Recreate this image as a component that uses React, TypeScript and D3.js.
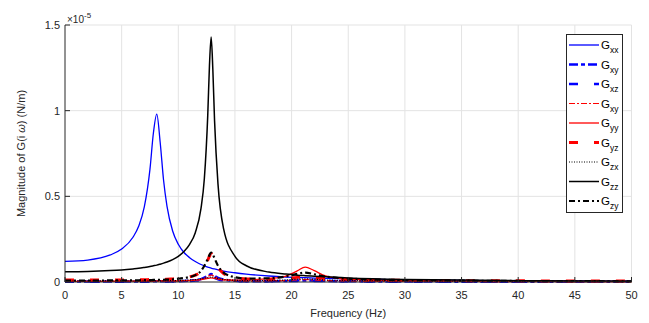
import { useEffect, useRef } from 'react'
import * as d3 from 'd3'

// frequency samples (Hz)
const freq = [0, 2, 4, 5, 6, 6.5, 7, 7.5, 7.8, 8.1, 8.4, 8.7, 9, 9.5, 10, 10.5, 11, 11.5, 12, 12.3, 12.6, 12.75, 12.9, 13.05, 13.2, 13.5, 14, 15, 16, 18, 19.5, 20.5, 21.2, 22, 23, 25, 30, 35, 40, 45, 50]

// magnitudes, x1e-5 N/m
const gxx = [0.12, 0.128, 0.158, 0.192, 0.261, 0.325, 0.438, 0.659, 0.868, 0.98, 0.816, 0.594, 0.443, 0.298, 0.22, 0.172, 0.142, 0.12, 0.102, 0.094, 0.087, 0.084, 0.081, 0.078, 0.076, 0.071, 0.064, 0.054, 0.046, 0.035, 0.029, 0.026, 0.025, 0.023, 0.021, 0.018, 0.012, 0.009, 0.007, 0.006, 0.005]
const gxy = [0.003, 0.003, 0.003, 0.003, 0.003, 0.003, 0.003, 0.004, 0.004, 0.004, 0.004, 0.004, 0.004, 0.005, 0.005, 0.006, 0.008, 0.011, 0.017, 0.025, 0.036, 0.042, 0.046, 0.042, 0.036, 0.024, 0.014, 0.007, 0.005, 0.005, 0.006, 0.008, 0.009, 0.008, 0.006, 0.004, 0.003, 0.002, 0.002, 0.002, 0.002]
const gxz = [0.002, 0.002, 0.002, 0.002, 0.002, 0.002, 0.002, 0.003, 0.003, 0.003, 0.003, 0.003, 0.003, 0.003, 0.004, 0.005, 0.006, 0.008, 0.012, 0.017, 0.024, 0.028, 0.031, 0.028, 0.024, 0.016, 0.009, 0.005, 0.004, 0.004, 0.005, 0.006, 0.007, 0.006, 0.005, 0.003, 0.002, 0.002, 0.002, 0.002, 0.002]
const gyx = [0.004, 0.004, 0.004, 0.004, 0.004, 0.004, 0.004, 0.004, 0.004, 0.005, 0.005, 0.005, 0.005, 0.005, 0.006, 0.007, 0.008, 0.011, 0.016, 0.023, 0.033, 0.038, 0.041, 0.038, 0.033, 0.022, 0.013, 0.007, 0.005, 0.006, 0.008, 0.012, 0.014, 0.012, 0.008, 0.005, 0.003, 0.003, 0.002, 0.002, 0.002]
const gyy = [0.004, 0.004, 0.004, 0.005, 0.005, 0.005, 0.005, 0.005, 0.006, 0.006, 0.006, 0.006, 0.006, 0.007, 0.007, 0.008, 0.009, 0.011, 0.014, 0.017, 0.021, 0.023, 0.024, 0.023, 0.021, 0.017, 0.013, 0.011, 0.012, 0.02, 0.035, 0.065, 0.087, 0.066, 0.036, 0.017, 0.008, 0.005, 0.004, 0.003, 0.003]
const gyz = [0.012, 0.012, 0.012, 0.012, 0.013, 0.013, 0.013, 0.014, 0.014, 0.014, 0.015, 0.015, 0.016, 0.018, 0.02, 0.024, 0.03, 0.04, 0.062, 0.09, 0.128, 0.15, 0.165, 0.152, 0.13, 0.088, 0.05, 0.026, 0.018, 0.016, 0.02, 0.027, 0.03, 0.026, 0.02, 0.015, 0.01, 0.008, 0.007, 0.006, 0.006]
const gzx = [0.006, 0.006, 0.006, 0.006, 0.006, 0.006, 0.006, 0.007, 0.007, 0.007, 0.007, 0.007, 0.008, 0.008, 0.009, 0.01, 0.012, 0.014, 0.018, 0.022, 0.026, 0.028, 0.029, 0.028, 0.026, 0.021, 0.015, 0.01, 0.008, 0.009, 0.012, 0.016, 0.018, 0.016, 0.012, 0.009, 0.006, 0.005, 0.004, 0.004, 0.003]
const gzz = [0.06, 0.0615, 0.0665, 0.0706, 0.0765, 0.08, 0.085, 0.0906, 0.0945, 0.0985, 0.104, 0.11, 0.117, 0.131, 0.15, 0.178, 0.22, 0.288, 0.428, 0.604, 0.974, 1.263, 1.43, 1.237, 0.942, 0.574, 0.31, 0.15, 0.095, 0.058, 0.046, 0.04, 0.037, 0.034, 0.03, 0.024, 0.015, 0.011, 0.008, 0.006, 0.005]
const gzy = [0.008, 0.008, 0.009, 0.009, 0.01, 0.01, 0.011, 0.011, 0.012, 0.012, 0.013, 0.013, 0.014, 0.016, 0.019, 0.023, 0.029, 0.04, 0.065, 0.095, 0.135, 0.158, 0.172, 0.16, 0.138, 0.095, 0.055, 0.028, 0.02, 0.022, 0.032, 0.047, 0.055, 0.045, 0.032, 0.02, 0.011, 0.008, 0.006, 0.005, 0.004]

const xTicks = [0, 5, 10, 15, 20, 25, 30, 35, 40, 45, 50]
const yTicks = [0, 0.5, 1, 1.5]

const series = [
  { sub: 'xx', values: gxx, color: '#0000ff', width: 1.3, dash: '' },
  { sub: 'xy', values: gxy, color: '#0000ff', width: 2.5, dash: '9,3,4,3' },
  { sub: 'xz', values: gxz, color: '#0000ff', width: 2.5, dash: '9,16' },
  { sub: 'xy', values: gyx, color: '#ff0000', width: 1.2, dash: '6,2,2,2' },
  { sub: 'yy', values: gyy, color: '#ff0000', width: 1.3, dash: '' },
  { sub: 'yz', values: gyz, color: '#ff0000', width: 3, dash: '9,16' },
  { sub: 'zx', values: gzx, color: '#000000', width: 1.2, dash: '1,1.5' },
  { sub: 'zz', values: gzz, color: '#000000', width: 1.5, dash: '' },
  { sub: 'zy', values: gzy, color: '#000000', width: 2.2, dash: '6,3,2,3' },
]

export default function App() {
  const ref = useRef<SVGSVGElement>(null)

  useEffect(() => {
    if (!ref.current) return
    const svg = d3.select(ref.current)
    svg.selectAll('*').remove()

    const left = 65, right = 631.5, top = 25, bottom = 282
    const x = d3.scaleLinear().domain([0, 50]).range([left, right])
    const y = d3.scaleLinear().domain([0, 1.5]).range([bottom, top])
    const axisColor = '#262626'
    const font = '"Liberation Sans", Arial, Helvetica, sans-serif'

    // grid
    const grid = svg.append('g')
    xTicks.slice(1).forEach(t => {
      grid.append('line').attr('x1', x(t)).attr('x2', x(t)).attr('y1', top).attr('y2', bottom)
        .attr('stroke', '#e3e3e3').attr('stroke-width', 1)
    })
    yTicks.slice(1).forEach(t => {
      grid.append('line').attr('x1', left).attr('x2', right).attr('y1', y(t)).attr('y2', y(t))
        .attr('stroke', '#e3e3e3').attr('stroke-width', 1)
    })

    // curves
    const plot = svg.append('g')
    series.forEach(s => {
      const pts: [number, number][] = freq.map((f, i) => [x(f), y(s.values[i])])
      const line = d3.line().curve(d3.curveMonotoneX)
      plot.append('path')
        .attr('d', line(pts))
        .attr('fill', 'none')
        .attr('stroke', s.color)
        .attr('stroke-width', s.width)
        .attr('stroke-dasharray', s.dash || null)
    })

    // axes
    const ax = svg.append('g')
    ax.append('line').attr('x1', left).attr('x2', left).attr('y1', top).attr('y2', bottom)
      .attr('stroke', axisColor).attr('stroke-width', 1)
    ax.append('line').attr('x1', left).attr('x2', right).attr('y1', bottom).attr('y2', bottom)
      .attr('stroke', axisColor).attr('stroke-width', 1)
    xTicks.forEach(t => {
      ax.append('line').attr('x1', x(t)).attr('x2', x(t)).attr('y1', bottom).attr('y2', bottom - 5)
        .attr('stroke', axisColor)
      ax.append('text').attr('x', x(t)).attr('y', 299).attr('text-anchor', 'middle')
        .style('font-family', font).style('font-size', '11px').style('fill', axisColor).text(t)
    })
    yTicks.forEach(t => {
      ax.append('line').attr('x1', left).attr('x2', left + 5).attr('y1', y(t)).attr('y2', y(t))
        .attr('stroke', axisColor)
      ax.append('text').attr('x', 60).attr('y', y(t) + 4).attr('text-anchor', 'end')
        .style('font-family', font).style('font-size', '11px').style('fill', axisColor).text(t)
    })

    // exponent
    const ex = ax.append('text').attr('x', 67).attr('y', 23)
      .style('font-family', font).style('font-size', '10px').style('fill', axisColor)
    ex.append('tspan').text('\u00d710')
    ex.append('tspan').attr('dy', -5).style('font-size', '8px').text('-5')

    // axis titles
    ax.append('text').attr('x', (left + right) / 2).attr('y', 317).attr('text-anchor', 'middle')
      .style('font-family', font).style('font-size', '11px').style('fill', axisColor).text('Frequency (Hz)')
    const yl = ax.append('text').attr('transform', `translate(25,${(top + bottom) / 2}) rotate(-90)`)
      .attr('text-anchor', 'middle')
      .style('font-family', font).style('font-size', '11px').style('fill', axisColor)
    yl.append('tspan').text('Magnitude of G(i ')
    yl.append('tspan').style('font-style', 'italic').text('\u03c9')
    yl.append('tspan').text(') (N/m)')

    // legend
    const lg = svg.append('g')
    lg.append('rect').attr('x', 566.5).attr('y', 34.5).attr('width', 56).attr('height', 178)
      .attr('fill', '#fff').attr('stroke', axisColor).attr('stroke-width', 1)
    series.forEach((s, i) => {
      const ly = 45 + i * 19.5
      lg.append('line').attr('x1', 569).attr('x2', 599).attr('y1', ly).attr('y2', ly)
        .attr('stroke', s.color).attr('stroke-width', s.width)
        .attr('stroke-dasharray', s.dash || null)
      const t = lg.append('text').attr('x', 601).attr('y', ly + 4)
        .style('font-family', font).style('font-size', '11.5px').style('fill', '#000')
      t.append('tspan').text('G')
      t.append('tspan').attr('dy', 4).style('font-size', '8.5px').text(s.sub)
    })
  }, [])

  return (
    <svg ref={ref} width={649} height={323}
      style={{ position: 'absolute', left: 0, top: 0, background: '#fff' }} />
  )
}
